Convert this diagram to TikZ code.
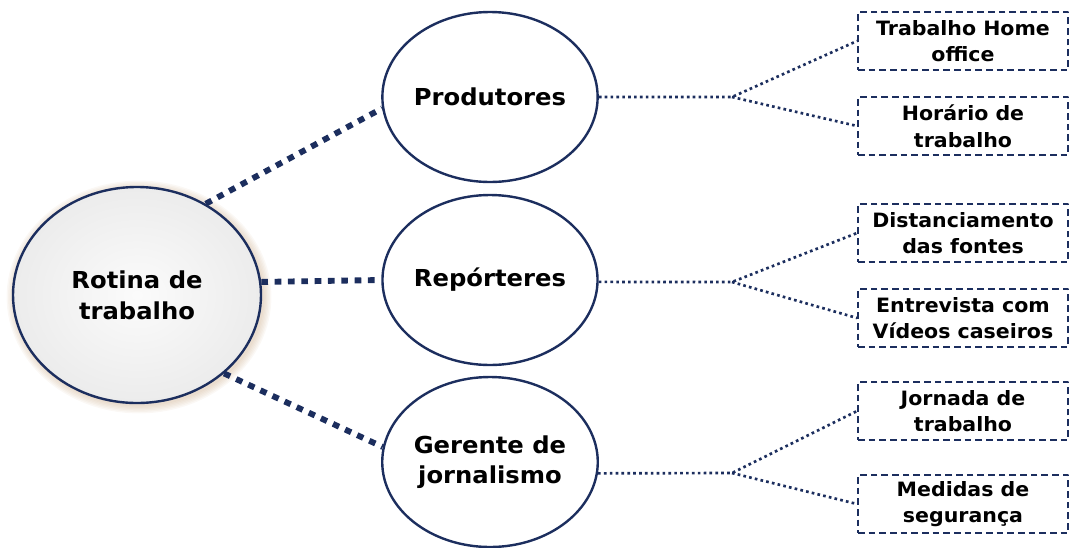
\documentclass[tikz,border=0pt]{standalone}
\usepackage{fontspec}
\setmainfont{DejaVu Sans}[FakeStretch=1.04]
\usepackage{tikz}
\usetikzlibrary{shapes.geometric}
\definecolor{marinho}{RGB}{28,46,94}
\definecolor{brilho}{RGB}{196,160,120}
\newcommand{\px}{0.75pt}
\tikzstyle{elli}=[ellipse,draw=marinho,line width=1.8pt,fill=white,inner sep=0pt,align=center,minimum width=214*\px,minimum height=170*\px,font=\fontsize{17.5}{23}\selectfont\bfseries]
\tikzstyle{caixa}=[rectangle,draw=marinho,line width=1.4pt,dash pattern=on 5pt off 3pt,inner sep=0pt,align=center,minimum width=210*\px,minimum height=58*\px,font=\fontsize{14.8}{20}\selectfont\bfseries]
\tikzstyle{ligagrossa}=[draw=marinho,line width=4.4pt,dash pattern=on 5pt off 5pt]
\tikzstyle{ligafina}=[draw=marinho,line width=2pt,dash pattern=on 2pt off 2.4pt]

\begin{document}
\begin{tikzpicture}[line join=round,x=0.75pt,y=-0.75pt]
            \useasboundingbox (0,0) rectangle (1070,547);
            % brilho em volta do circulo principal
            \foreach \g in {1,...,6}
                \fill[brilho,opacity=0.07] (139,297) ellipse ({124+1.4*\g} and {108+1.4*\g});
            \node[ellipse,draw=marinho,line width=1.8pt,inner sep=0pt,align=center,minimum width=248*\px,minimum height=216*\px,shading=radial,inner color=gray!3,outer color=gray!15,font=\fontsize{17.5}{23}\selectfont\bfseries] (rot) at (137,295) {Rotina de\\trabalho};

            \node[elli] (prod) at (490,97) {Produtores};
            \node[elli] (rep) at (490,280) {Repórteres};
            \node[elli] (ger) at (490,462) {Gerente de\\jornalismo};

            \node[caixa] (hom) at (963,41) {Trabalho Home\\office};
            \node[caixa] (hor) at (963,126) {Horário de\\trabalho};
            \node[caixa] (dis) at (963,233) {Distanciamento\\das fontes};
            \node[caixa] (ent) at (963,318) {Entrevista com\\Vídeos caseiros};
            \node[caixa] (jor) at (963,411) {Jornada de\\trabalho};
            \node[caixa] (med) at (963,504) {Medidas de\\segurança};

            \coordinate (bp1) at (732,97);
            \coordinate (bp2) at (732,282);
            \coordinate (bp3) at (732,473);

            \draw[ligagrossa] (rot.53) -- (prod.186);
            \draw[ligagrossa] (rot.6) -- (rep.west);
            \draw[ligagrossa] (rot.-42) -- (ger.172);

            \draw[ligafina] (prod.east) -- (bp1) -- (hom.west);
            \draw[ligafina] (bp1) -- (hor.west);
            \draw[ligafina] (rep.-1) -- (bp2) -- (dis.west);
            \draw[ligafina] (bp2) -- (ent.west);
            \draw[ligafina] (ger.-6) -- (bp3) -- (jor.west);
            \draw[ligafina] (bp3) -- (med.west);
            \end{tikzpicture}
\end{document}
